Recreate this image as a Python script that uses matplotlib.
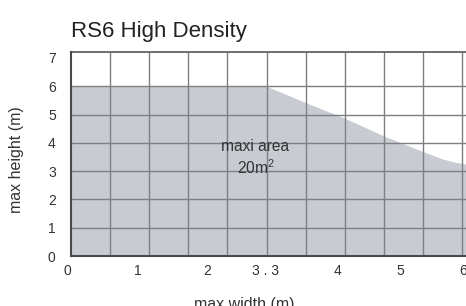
import matplotlib
matplotlib.use("Agg")
import matplotlib.pyplot as plt
import matplotlib.transforms as mtransforms

plt.rcParams['font.family'] = ['Liberation Sans', 'DejaVu Sans']
plt.rcParams['mathtext.fontset'] = 'custom'
plt.rcParams['mathtext.rm'] = 'Liberation Sans'
plt.rcParams['mathtext.it'] = 'Liberation Sans'

# Data
title = "RS6 High Density"
x_label = "max width (m)"
y_label = "max height (m)"
area_line1 = "maxi area"
area_line2 = "20m$^2$"

# envelope of max height vs width (m)
env_x = [0.0, 3.0, 3.6, 4.2, 4.8, 5.4, 5.7, 5.9, 6.06]
env_y = [6.0, 6.0, 5.42, 4.87, 4.24, 3.69, 3.43, 3.31, 3.25]

x_tick_pos = [0.0, 1.02, 2.09, 2.98, 4.09, 5.05, 6.01]
x_tick_labels = ["0", "1", "2", "3 . 3", "4", "5", "6"]
y_ticks = [0, 1, 2, 3, 4, 5, 6, 7]
x_grid = [0.6, 1.2, 1.8, 2.4, 3.0, 3.6, 4.2, 4.8, 5.4, 6.0]
y_grid = [1, 2, 3, 4, 5, 6]

text_col = '#333333'
fill_col = '#c8cbd2'
grid_col = '#7d7f82'
spine_col = '#4a4a4a'

W, H = 466, 306
fig = plt.figure(figsize=(W / 100, H / 100), dpi=100)
left, right, bottom, top = 71, 466, 256, 51.7
ax = fig.add_axes([left / W, 1 - bottom / H, (right - left) / W, (bottom - top) / H])

ax.fill_between(env_x, 0, env_y, color=fill_col, lw=0, zorder=1)

ax.set_xlim(0, 6.06)
ax.set_ylim(0, 7.22)

ax.set_xticks(x_tick_pos)
ax.set_xticklabels(x_tick_labels)
ax.set_yticks(y_ticks)
ax.grid(False)
ax.vlines(x_grid, 0, 1, transform=ax.get_xaxis_transform(), color=grid_col, lw=1.0, zorder=2)
ax.hlines(y_grid, 0, 1, transform=ax.get_yaxis_transform(), color=grid_col, lw=1.0, zorder=2)

ax.tick_params(which='both', length=0)
ax.tick_params(axis='x', pad=6, labelsize=10, labelcolor=text_col)
ax.tick_params(axis='y', pad=11, labelsize=10, labelcolor=text_col)

# shift "0" slightly left
lbl0 = ax.get_xticklabels()[0]
lbl0.set_transform(lbl0.get_transform() + mtransforms.ScaledTranslation(-4 / 100, 0, fig.dpi_scale_trans))

for s in ['left', 'bottom']:
    ax.spines[s].set_color(spine_col)
    ax.spines[s].set_linewidth(1.5)
    ax.spines[s].set_zorder(3)
ax.spines['top'].set_color('#555555')
ax.spines['top'].set_linewidth(1.2)
ax.spines['right'].set_visible(False)

ax.text(2.82, 3.88, area_line1, ha='center', va='center', fontsize=11.2, color=text_col, zorder=4)
ax.text(2.83, 3.12, area_line2, ha='center', va='center', fontsize=11.2, color=text_col, zorder=4)

fig.text(71 / W, 1 - 36.7 / H, title, ha='left', va='baseline', fontsize=16, color='#222222')
fig.text(17 / W, 1 - 160 / H, y_label, rotation=90, ha='center', va='center', fontsize=11.5, color=text_col)
fig.text(244 / W, 1 - 297 / H, x_label, ha='center', va='top', fontsize=11.5, color=text_col)

fig.savefig("out.png", dpi=100)
